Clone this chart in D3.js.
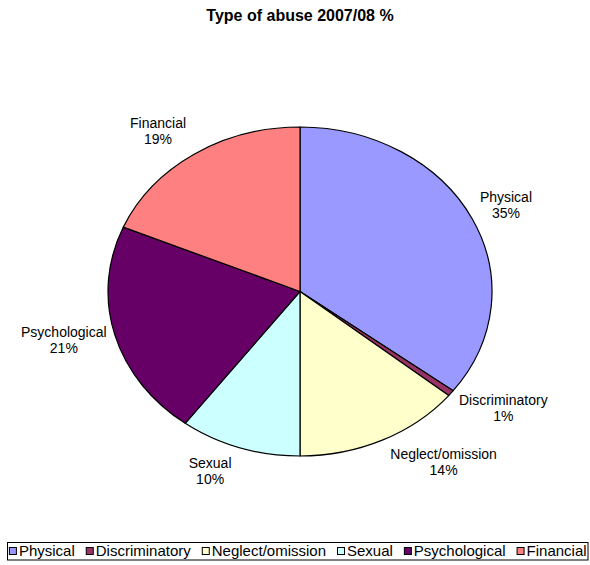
<!DOCTYPE html>
<html><head><meta charset="utf-8">
<script src="https://cdn.jsdelivr.net/npm/d3@7"></script>
<style>body{margin:0;background:#fff}svg{display:block}</style>
</head><body>
<svg id="c" width="590" height="565"></svg>
<script>
const title = "Type of abuse 2007/08 %";
const categories = ["Physical","Discriminatory","Neglect/omission","Sexual","Psychological","Financial"];
const values = [35.3, 0.6, 14.1, 10.2, 21.2, 18.6];
const percentLabels = ["35%","1%","14%","10%","21%","19%"];
const colors = ["#9999FF","#993366","#FFFFCC","#CCFFFF","#660066","#FF8080"];

const font = "Arial, 'Liberation Sans', sans-serif";
const svg = d3.select("#c");
const cx = 300, cy = 291.5, rx = 192, ry = 164.5;

svg.append("text").attr("x", 300).attr("y", 21).attr("text-anchor","middle")
  .style("font-family", font).style("font-weight","bold").style("font-size","16px")
  .text(title);

const data = categories.map((c,i)=>({name:c, value:values[i], pct:percentLabels[i], color:colors[i]}));
const pie = d3.pie().sort(null).value(d=>d.value);
const arcs = pie(data);
const arc = d3.arc().innerRadius(0).outerRadius(ry);

const g = svg.append("g").attr("transform", `translate(${cx},${cy}) scale(${rx/ry},1)`);
g.selectAll("path").data(arcs).join("path")
  .attr("d", arc)
  .attr("fill", d=>d.data.color)
  .attr("stroke", "#000")
  .attr("stroke-width", 1.2)
  .attr("vector-effect", "non-scaling-stroke")
  .attr("stroke-linejoin","round");

// labels
const lg = svg.append("g");
arcs.forEach(d=>{
  const a = (d.startAngle + d.endAngle)/2;
  const s = Math.sin(a), c = Math.cos(a);
  const px = cx + rx*s + 8*Math.sign(s);
  const py = cy - (ry+26)*c - 1.5;
  const t = lg.append("g");
  const l1 = t.append("text").attr("y", py-3).text(d.data.name);
  const l2 = t.append("text").attr("y", py+13).text(d.data.pct);
  t.selectAll("text").attr("text-anchor","middle").style("font-family",font).style("font-size","14px").attr("fill","#000");
  const w = Math.max(l1.node().getComputedTextLength(), l2.node().getComputedTextLength());
  const mx = s >= 0 ? px + w/2 : px - w/2;
  t.selectAll("text").attr("x", mx);
});

// legend
const leg = svg.append("g");
leg.append("rect").attr("x",7.5).attr("y",542.5).attr("width",580.5).attr("height",17.5)
  .attr("fill","#fff").attr("stroke","#000").attr("stroke-width",1);
let x = 0;
const gap = 11;
const items = leg.append("g");
data.forEach((d,i)=>{
  const it = items.append("g").attr("transform",`translate(${x},0)`);
  it.append("rect").attr("x",0.5).attr("y",547.5).attr("width",7).attr("height",7)
    .attr("fill",d.color).attr("stroke","#000").attr("stroke-width",1);
  const tx = it.append("text").attr("x",10).attr("y",556).style("font-family",font).style("font-size","15px").text(d.name);
  x += 10 + tx.node().getComputedTextLength() + gap;
});
const total = x - gap;
items.attr("transform",`translate(${7.5 + (580.5-total)/2},0)`);
</script>
</body></html>
